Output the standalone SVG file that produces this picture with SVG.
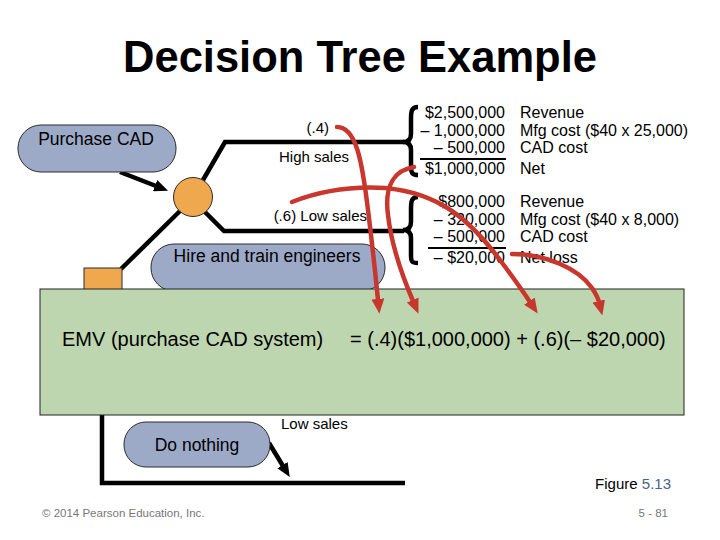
<svg xmlns="http://www.w3.org/2000/svg" width="720" height="540" viewBox="0 0 720 540">
<defs>
<style>
text{font-family:"Liberation Sans",Arial,sans-serif;fill:#000}
.pill{fill:#9DAAC7;stroke:#2a2a2a;stroke-width:1}
.ln{fill:none;stroke:#000;stroke-width:4.5}
.red{fill:none;stroke:#C8372D;stroke-width:4.5;stroke-linecap:round}
.num{font-size:16px;text-anchor:end}
.lab{font-size:16px}
.sm{font-size:15px}
.pt{font-size:17.5px;text-anchor:middle}
</style>
<marker id="ra" viewBox="0 0 14 12" refX="1" refY="6" markerWidth="15" markerHeight="13" markerUnits="userSpaceOnUse" orient="auto"><path d="M0,0 L14,6 L0,12 z" fill="#C8372D"/></marker>
<marker id="ba" viewBox="0 0 14 12" refX="1" refY="6" markerWidth="14" markerHeight="12" markerUnits="userSpaceOnUse" orient="auto"><path d="M0,0 L14,6 L0,12 z" fill="#000"/></marker>
</defs>
<rect width="720" height="540" fill="#fff"/>
<text x="360" y="72" font-size="43.5" font-weight="bold" text-anchor="middle">Decision Tree Example</text>

<g id="connectors">
<path class="ln" d="M120 172 L156 186" marker-end="url(#ba)"/>
<path class="ln" d="M203 180 L225 142 L404 142"/>
<path class="ln" d="M205 212 L224 231 L404 231"/>
<path class="ln" d="M180 211 L121 269"/>
<path class="ln" d="M102 410 L102 483 L405 483"/>
<path class="ln" d="M269 443 L283 466" marker-end="url(#ba)"/>
<path class="ln" d="M418 107 C411 107 411 112 411 120 L411 134 C411 140 408 142 403 142 C408 142 411 144 411 150 L411 166 C411 173 412 175 418 175"/>
<path class="ln" d="M418 197 C411 197 411 202 411 210 L411 222 C411 228 408 230 403 230 C408 230 411 232 411 238 L411 255 C411 262 412 263 418 263"/>
<line x1="420" y1="159" x2="506" y2="159" stroke="#000" stroke-width="2"/>
<line x1="428" y1="248" x2="506" y2="248" stroke="#000" stroke-width="2"/>
</g>

<g id="purchase-cad"><rect class="pill" x="18" y="125" width="158" height="47" rx="23"/><text class="pt" x="96" y="145">Purchase CAD</text></g>
<g id="chance-node"><circle cx="193" cy="197" r="19.5" fill="#EFA84E" stroke="#2a2a2a" stroke-width="1"/></g>
<g id="decision-node"><rect x="84" y="268" width="38" height="38" fill="#EFA84E" stroke="#2a2a2a" stroke-width="1"/></g>
<g id="hire-engineers"><rect class="pill" x="151" y="244" width="234" height="47" rx="23"/><text class="pt" x="267" y="262">Hire and train engineers</text></g>
<g id="do-nothing"><rect class="pill" x="124" y="422" width="146" height="45" rx="22"/><text class="pt" x="197" y="451">Do nothing</text></g>

<g id="branch-labels">
<text class="sm" x="329" y="133" text-anchor="end">(.4)</text>
<text class="sm" x="279" y="162">High sales</text>
<text class="sm" x="367" y="221" text-anchor="end">(.6) Low sales</text>
<text class="sm" x="281" y="429">Low sales</text>
</g>

<g id="payoff-high">
<text class="num" x="505" y="118">$2,500,000</text>
<text class="num" x="505" y="136">– 1,000,000</text>
<text class="num" x="505" y="153">– 500,000</text>
<text class="num" x="505" y="174">$1,000,000</text>
<text class="lab" x="520" y="118">Revenue</text>
<text class="lab" x="520" y="136">Mfg cost ($40 x 25,000)</text>
<text class="lab" x="520" y="153">CAD cost</text>
<text class="lab" x="520" y="174">Net</text>
</g>
<g id="payoff-low">
<text class="num" x="505" y="207">$800,000</text>
<text class="num" x="505" y="225">– 320,000</text>
<text class="num" x="505" y="242">– 500,000</text>
<text class="num" x="505" y="263">– $20,000</text>
<text class="lab" x="520" y="207">Revenue</text>
<text class="lab" x="520" y="225">Mfg cost ($40 x 8,000)</text>
<text class="lab" x="520" y="242">CAD cost</text>
<text class="lab" x="520" y="263">Net loss</text>
</g>

<g id="emv-box">
<rect x="40" y="289" width="644" height="126" fill="#BED6AF" stroke="#222" stroke-width="1"/>
<text x="62" y="346" font-size="20">EMV (purchase CAD system)</text>
<text x="350" y="346" font-size="20">= (.4)($1,000,000) + (.6)(– $20,000)</text>
</g>

<g id="emv-arrows">
<path class="red" d="M337 127 C356 127 362 160 368 210 C373 250 376 280 378 300" marker-end="url(#ra)"/>
<path class="red" d="M414 167 C395 170 384 185 388 215 C392 250 404 280 413 301" marker-end="url(#ra)"/>
<path class="red" d="M292 202 C320 191 350 186 385 188 C440 193 470 220 500 260 C515 280 524 293 530 302" marker-end="url(#ra)"/>
<path class="red" d="M512 254 C545 254 578 268 592 288 C596 294 598 298 599 302" marker-end="url(#ra)"/>
</g>

<text x="671" y="489" font-size="15" text-anchor="end">Figure <tspan style="fill:#4A6384">5.13</tspan></text>
<text x="42" y="517" font-size="11.5" style="fill:#777">© 2014 Pearson Education, Inc.</text>
<text x="668" y="517" font-size="11.5" text-anchor="end" style="fill:#777">5 - 81</text>
</svg>
